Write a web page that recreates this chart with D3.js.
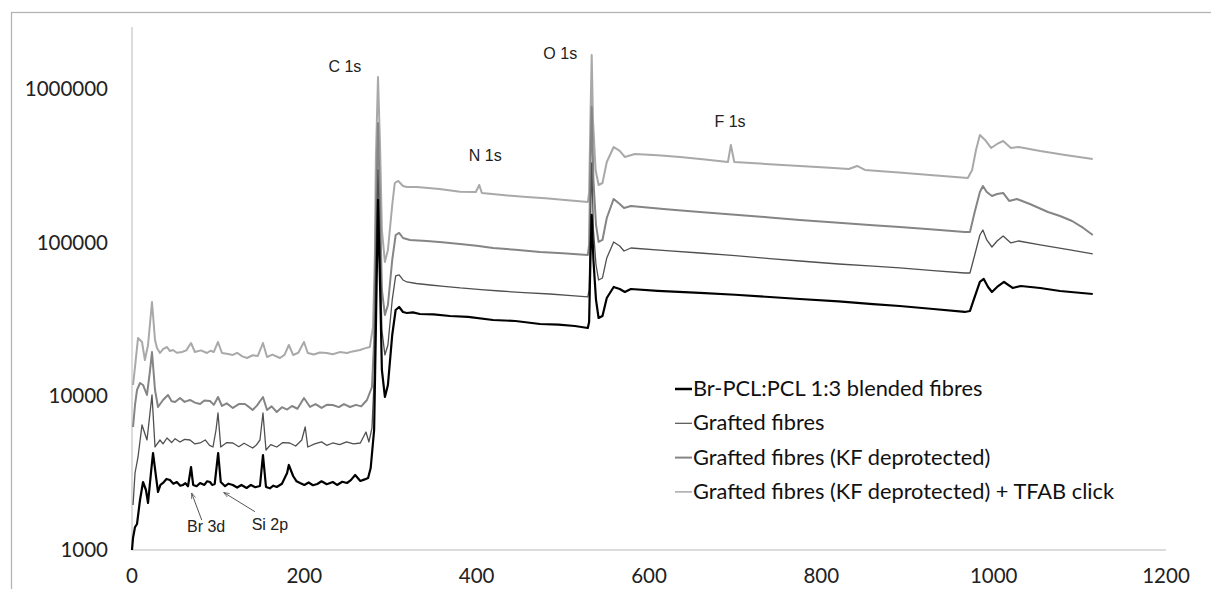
<!DOCTYPE html>
<html>
<head>
<meta charset="utf-8">
<script src="https://cdn.jsdelivr.net/npm/d3@7"></script>
<style>
  body { margin: 0; background: #fff; }
  svg { display: block; }
</style>
</head>
<body>
<div id="chart"></div>
<script>
// binding energy (eV) / counts
const blended = [
  [0,1000],[1.2,1200],[3.5,1411],[5.8,1476],[9.3,2115],[12.8,2770],[16.2,2457],[18.6,2022],
  [22,3170],[24.4,4278],[27.9,2986],[30.2,2385],[33,2650],[36,2729],[40,2900],[44,2855],
  [48,2700],[52,2770],[56,2620],[59,2649],[62,2720],[65,2600],[68.5,3468],[71,2649],[75,2600],
  [79,2729],[84,2650],[87,2800],[90.5,2770],[93,2650],[96,2689],[100,4278],[103,2770],[108,2600],
  [112,2700],[117,2649],[122,2550],[127,2650],[133,2532],[138,2650],[143,2560],[148.5,2609],
  [152,4152],[155.5,2570],[160,2520],[164,2620],[168,2570],[174,2700],[180,3170],[182,3574],
  [187,3030],[191,2800],[195,2729],[200,2650],[205,2750],[210,2640],[215,2689],[220,2800],
  [226,2680],[233,2770],[238,2650],[244,2780],[249.5,2729],[254,2850],[259,3077],[265,2812],
  [270,2880],[274,2942],[277,3417],[281,6038],[283,27020],[285.5,189500],[288,49200],[290,14840],
  [293.5,9900],[297,11850],[302,25060],[306,36470],[310,38140],[314.5,35390],[319,34860],[326,35200],
  [334,34330],[350,34100],[369,33320],[390,32900],[419,31380],[445,30900],[473.5,29560],[495,29300],
  [514,28690],[529,27840],[530.5,30460],[532,77140],[533.5,151400],[535.5,77140],[538.5,42360],
  [541.5,32330],[546,33320],[551,43630],[559,51460],[566,49940],[572,47750],[579,49940],[610,48600],
  [659,47040],[700,45800],[740,44300],[775,42990],[820,41500],[860,39800],[891,38710],[930,37000],
  [966.5,35390],[972.5,35920],[978,44300],[984,55460],[988.5,58000],[993.5,51460],[998,47750],
  [1004,51460],[1012,55460],[1022,50700],[1031.5,52240],[1054,50700],[1077,48460],[1115,46330]
];
const grafted = [
  [1.2,1963],[3.5,3170],[7,4029],[11.6,6508],[17.4,5197],[23.2,10200],[26.7,4681],[32.5,5197],
  [36,4900],[40.6,5356],[46,5000],[50,5300],[55.7,5045],[61,5250],[67.3,5197],[73,4900],[79,4970],
  [85,5200],[90,4800],[94,4681],[97.5,6038],[99.8,7790],[103,4681],[110,5000],[117,4970],[124,4700],
  [130,4950],[140,4611],[144,4800],[148.5,5197],[152,7790],[155.5,4475],[161,4850],[168,4681],
  [175,5000],[183,4970],[190,4750],[197,5197],[201,6316],[204,4681],[212,4900],[220,5050],[226,4800],
  [233,4970],[241,4850],[249,5050],[257,4900],[265,4970],[271.5,5860],[275,5045],[278.5,6222],
  [281,12770],[283,77140],[285.5,297100],[288,89580],[290,27020],[293.5,18580],[297,21580],[302,42360],
  [306,60690],[310,61610],[314.5,57150],[319,55460],[330,54200],[346,53020],[362,52000],[381,50700],
  [405,49500],[427,48460],[455,47300],[485,46330],[510,45200],[529,44300],[530.5,49200],[531.5,89580],
  [533.5,330000],[535.5,120900],[538.5,71560],[541.5,57150],[546,58890],[551,79460],[559,101000],
  [566,95110],[571,88240],[579,92300],[620,88700],[659,85640],[700,82300],[740,78800],[775,75970],
  [820,72600],[860,70300],[891,68420],[930,65800],[966.5,63450],[972.5,63450],[978,83120],
  [984,112100],[987.5,120900],[992,104100],[998,93680],[1004,102500],[1011,110500],[1020,99500],
  [1029,102500],[1054,96540],[1088.5,89580],[1115,84390]
];
const deprotected = [
  [1.2,6316],[3.5,8783],[5.8,10990],[9.3,12210],[12.8,11850],[17.4,10200],[21,14840],[23.2,19430],
  [26.7,10990],[30.2,8523],[36,9465],[41.8,10200],[46,9300],[50,9185],[55.7,9752],[61,9200],
  [67.3,9465],[73,9100],[79,8916],[84,9400],[90.5,9325],[95,8800],[99.8,9900],[104.4,8650],
  [110,9000],[117,8400],[124,8900],[131,8916],[136,8500],[140,8147],[145,8700],[152,9900],
  [156.7,8147],[162,8600],[168,7907],[174,8500],[180,8200],[185.7,8650],[192,8300],[199.6,9752],
  [206.6,8523],[213,8900],[220,8400],[226,8800],[233,8783],[240,8500],[246,8900],[253,8523],
  [260,8800],[266,8600],[272.7,9465],[278.5,11500],[281,23250],[283,140400],[285.5,600700],
  [288,163200],[290,49200],[293.5,33820],[297,39290],[302,77140],[306,112100],[310,115600],
  [314.5,107200],[322.6,104100],[342,102500],[360,100500],[380.6,98000],[400,95500],[419,92300],
  [445,89800],[473.5,86960],[500,85200],[529,83120],[530.5,96540],[531.5,220100],[533.5,763300],
  [535.5,255700],[538.5,130300],[541.5,101000],[546,104100],[551,144700],[559,192400],[566,178500],
  [571,168100],[579,173200],[620,165200],[659,158300],[700,151800],[740,145900],[775,140400],
  [820,134600],[860,129800],[891,126500],[930,121800],[966.5,117300],[972.5,117300],[978,158300],
  [984,213600],[987.5,233700],[992,213600],[998,201200],[1004,207300],[1011,210500],[1018,186700],
  [1027,192400],[1042,178500],[1063,158300],[1077,149100],[1091,138300],[1104,124600],[1115,112100]
];
const clicked = [
  [1.2,11850],[3.5,15520],[7,23970],[11.6,22570],[15,17230],[18.6,21580],[23.2,41100],[26.7,23250],
  [29,20630],[32.5,19140],[36,20300],[40.6,20940],[44,19700],[47.6,20020],[52,19200],[58,19430],
  [63,19900],[68.5,22230],[73,19430],[80,19900],[87,19140],[91,19800],[95,19430],[99.8,22570],
  [104.4,19140],[110,18900],[117,18580],[122,19200],[128,18200],[133.5,17760],[140,18500],[146,18300],
  [152,22230],[156.7,18030],[163,18700],[171.7,17760],[177,18600],[182,21580],[187,18580],[193,19200],
  [199.6,22570],[204,19140],[211,18700],[218,19300],[226,19140],[233,18800],[241,19400],[249.5,19140],
  [256,19600],[264.6,20020],[270,20500],[276,20940],[279.7,28270],[282,89580],[283,345100],
  [285.5,1197000],[288,400900],[290,120900],[293.5,74830],[297,89580],[302,175800],[305,244400],
  [309,251900],[314.5,233700],[319,230200],[330.7,230200],[357,223500],[380.6,214600],[399,213600],
  [403,237200],[406,210500],[430,204000],[458,198200],[480,194300],[502.5,189500],[529,183900],
  [530.5,210500],[532,628300],[533.5,1665000],[535,628300],[538,297100],[541.5,237200],[546,244400],
  [551,334900],[559,419300],[566,395000],[572,360900],[583.5,377600],[610,370000],[636,360900],
  [665,348000],[691.6,334900],[695,432000],[699,334900],[740,324000],[775,315400],[805,308000],
  [832,301500],[841.5,315400],[850.6,297100],[890,286000],[926,275600],[970,263500],[975,297100],
  [979.5,400900],[984,501900],[990,465600],[997,413000],[1004,438500],[1011,458600],[1020,413000],
  [1029,419300],[1054,395000],[1083,371800],[1115,350300]
];

const seriesNames = [
  "Br-PCL:PCL 1:3 blended fibres",
  "Grafted fibres",
  "Grafted fibres (KF deprotected)",
  "Grafted fibres (KF deprotected) + TFAB click"
];
const xTicks = [0, 200, 400, 600, 800, 1000, 1200];
const yTicks = [1000, 10000, 100000, 1000000];
// peak labels: text, energy, counts at baseline
const peakLabels = [
  ["C 1s", 247, 1290000],
  ["N 1s", 410, 339700],
  ["O 1s", 497, 1567000],
  ["F 1s", 694, 565700],
  ["Br 3d", 86, 1310],
  ["Si 2p", 160, 1349]
];
// arrows under the small peaks: from (energy, counts) to (energy, counts)
const peakArrows = [
  [80.9, 1567, 69.3, 2339],
  [142.7, 1775, 106.8, 2360]
];

const width = 1211, height = 589;
const svg = d3.select("#chart").append("svg")
    .attr("width", width)
    .attr("height", height);

// outer frame (cut by the picture edge at right/bottom)
svg.append("rect")
    .attr("x", 11.5).attr("y", 12.5)
    .attr("width", 1400).attr("height", 800)
    .attr("fill", "none")
    .attr("stroke", "#b4b4b4")
    .attr("stroke-width", 1.3);

const x = d3.scaleLinear().domain([0, 1200]).range([132, 1166]);
const y = d3.scaleLog().domain([1000, 2530000]).range([550, 27]);

// axis lines
svg.append("line")
    .attr("x1", x(0)).attr("x2", x(1200))
    .attr("y1", y(1000)).attr("y2", y(1000))
    .attr("stroke", "#d0d0d0").attr("stroke-width", 1.5);
svg.append("line")
    .attr("x1", x(0)).attr("x2", x(0))
    .attr("y1", y(1000)).attr("y2", 27)
    .attr("stroke", "#d0d0d0").attr("stroke-width", 1.5);

// tick labels
svg.selectAll(".xlab")
    .data(xTicks)
    .join("text")
    .attr("class", "xlab")
    .attr("x", d => x(d))
    .attr("y", 583)
    .attr("text-anchor", "middle")
    .attr("font-family", "Lato, 'Open Sans', sans-serif")
    .attr("font-size", 20.5)
    .attr("fill", "#222")
    .text(d => d);
svg.selectAll(".ylab")
    .data(yTicks)
    .join("text")
    .attr("class", "ylab")
    .attr("x", 108)
    .attr("y", d => y(d) + 7)
    .attr("text-anchor", "end")
    .attr("font-family", "Lato, 'Open Sans', sans-serif")
    .attr("font-size", 20.5)
    .attr("fill", "#222")
    .text(d => d);

// spectra, lightest drawn first so the black one sits on top
const line = d3.line().x(d => x(d[0])).y(d => y(d[1]));
const series = [
  {data: clicked, color: "#a9a9a9", w: 2},
  {data: deprotected, color: "#858585", w: 2},
  {data: grafted, color: "#505050", w: 1.3},
  {data: blended, color: "#000000", w: 2.2}
];
svg.selectAll(".spec")
    .data(series)
    .join("path")
    .attr("class", "spec")
    .attr("d", d => line(d.data))
    .attr("fill", "none")
    .attr("stroke", d => d.color)
    .attr("stroke-width", d => d.w)
    .attr("stroke-linejoin", "round");

// peak labels
svg.selectAll(".peak")
    .data(peakLabels)
    .join("text")
    .attr("class", "peak")
    .attr("x", d => x(d[1]))
    .attr("y", d => y(d[2]))
    .attr("text-anchor", "middle")
    .attr("font-family", "'Liberation Sans', Arial, sans-serif")
    .attr("font-size", 16)
    .attr("fill", "#222")
    .text(d => d[0]);

svg.append("defs").append("marker")
    .attr("id", "head")
    .attr("viewBox", "0 0 10 10")
    .attr("refX", 9).attr("refY", 5)
    .attr("markerWidth", 6).attr("markerHeight", 6)
    .attr("orient", "auto")
    .append("path")
    .attr("d", "M0,1.5L10,5L0,8.5")
    .attr("fill", "none")
    .attr("stroke", "#555")
    .attr("stroke-width", 1.2);
svg.selectAll(".arrow")
    .data(peakArrows)
    .join("line")
    .attr("class", "arrow")
    .attr("x1", d => x(d[0])).attr("y1", d => y(d[1]))
    .attr("x2", d => x(d[2])).attr("y2", d => y(d[3]))
    .attr("stroke", "#555")
    .attr("stroke-width", 1)
    .attr("marker-end", "url(#head)");

// legend
const legendStyle = [
  {color: "#000000", w: 2.5},
  {color: "#505050", w: 1.2},
  {color: "#858585", w: 2},
  {color: "#a9a9a9", w: 1.5}
];
const legend = svg.selectAll(".leg")
    .data(seriesNames)
    .join("g")
    .attr("class", "leg")
    .attr("transform", (d, i) => `translate(675, ${389 + i * 34.3})`);
legend.append("line")
    .attr("x1", 0).attr("x2", 17)
    .attr("stroke", (d, i) => legendStyle[i].color)
    .attr("stroke-width", (d, i) => legendStyle[i].w);
legend.append("text")
    .attr("x", 18)
    .attr("y", 7)
    .attr("font-family", "Lato, 'Open Sans', sans-serif")
    .attr("font-size", 21.8)
    .attr("fill", "#111")
    .text(d => d);
</script>
</body>
</html>
